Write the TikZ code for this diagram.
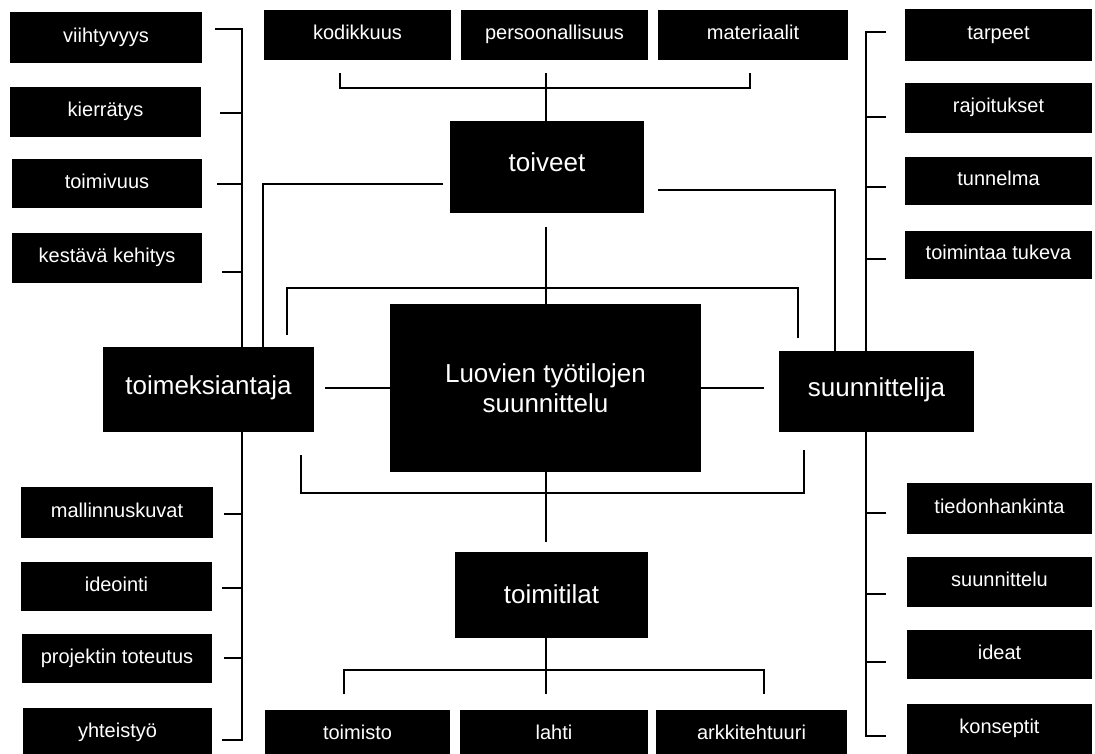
\documentclass[tikz,border=0pt]{standalone}
\usepackage{fontspec}
\setmainfont{Liberation Sans}
\usetikzlibrary{calc}
\newcommand\mybox[7]{\node[#1,minimum width={(#4-#2)*1pt},minimum height={(#5-#3)*1pt}] (#6) at ({(#2+#4)/2},{(#3+#5)/2}) {#7};}
\begin{document}
\begin{tikzpicture}[x=1pt,y=-1pt,
  box/.style={fill=black,text=white,inner sep=0pt,align=center},
  sm/.style={box,font=\fontsize{20}{24}\selectfont,text height=9.5pt,text depth=0.5pt},
  lg/.style={box,font=\fontsize{26}{30}\selectfont,text height=9.5pt,text depth=0.5pt},
  ctr/.style={box,font=\fontsize{26}{30}\selectfont},
  ln/.style={line width=2.2pt,line cap=butt,line join=miter}]
\clip (0,0) rectangle (1095,753);
\fill[white] (0,0) rectangle (1095,753);
% left top column
\mybox{sm}{10}{12}{202}{63}{viiht}{viihtyvyys}
\mybox{sm}{10}{87}{201}{137}{kierr}{kierrätys}
\mybox{sm}{12}{159}{202}{208}{toimiv}{toimivuus}
\mybox{sm}{12}{233}{202}{283}{kestava}{kestävä kehitys}
% left bottom column
\mybox{sm}{21}{487}{213}{538}{mallin}{mallinnuskuvat}
\mybox{sm}{21}{562}{212}{611}{ideointi}{ideointi}
\mybox{sm}{22}{634}{212}{683}{projektin}{projektin toteutus}
\mybox{sm}{23}{708}{212}{758}{yhteistyo}{yhteistyö}
% top row
\mybox{sm}{264}{10}{451}{60}{kodikkuus}{kodikkuus}
\mybox{sm}{461}{10}{648}{60}{persoon}{persoonallisuus}
\mybox{sm}{658}{10}{848}{60}{materiaalit}{materiaalit}
% right top column
\mybox{sm}{905}{9}{1092}{61}{tarpeet}{tarpeet}
\mybox{sm}{905}{83}{1092}{133}{rajoitukset}{rajoitukset}
\mybox{sm}{905}{157}{1092}{205}{tunnelma}{tunnelma}
\mybox{sm}{905}{231}{1092}{279}{tukeva}{toimintaa tukeva}
% right bottom column
\mybox{sm}{907}{483}{1092}{534}{tiedon}{tiedonhankinta}
\mybox{sm}{907}{557}{1092}{607}{suunnittelu}{suunnittelu}
\mybox{sm}{907}{630}{1092}{679}{ideat}{ideat}
\mybox{sm}{907}{704}{1092}{754}{konseptit}{konseptit}
% bottom row
\mybox{sm}{265}{710}{450}{760}{toimisto}{toimisto}
\mybox{sm}{460}{710}{648}{760}{lahti}{lahti}
\mybox{sm}{656}{710}{847}{760}{arkki}{arkkitehtuuri}
% large boxes
\mybox{lg}{450}{121}{644}{213}{toiveet}{toiveet}
\mybox{lg}{103}{347}{314}{432}{toim}{toimeksiantaja}
\mybox{ctr}{390}{304}{701}{472}{center}{Luovien työtilojen\\suunnittelu}
\mybox{lg}{779}{351}{974}{432}{suun}{suunnittelija}
\mybox{lg,text height=18pt}{455}{552}{648}{638}{toimitilat}{toimitilat}
% coordinates
\coordinate (kL) at (340,73);
\coordinate (kR) at (750,73);
\coordinate (kC) at (546,73);
\coordinate (tvL) at (443,184);
\coordinate (tvLc) at (263,184);
\coordinate (tvR) at (658,190);
\coordinate (tvRc) at (835,190);
\coordinate (tvD) at (546,227);
\coordinate (ubL) at (287,335);
\coordinate (ubR) at (798,338);
\coordinate (lbL) at (301,455);
\coordinate (lbR) at (804,450);
\coordinate (cL) at (325,388);
\coordinate (cR) at (764,388);
\coordinate (cD) at (546,542);
\coordinate (bbL) at (344,694);
\coordinate (bbR) at (764,694);
\coordinate (bbC) at (546,694);
% top bracket
\draw[ln] (kL) -- (340,88) -- (750,88) -- (kR);
\draw[ln] (kC) -- (kC |- toiveet.north);
% toiveet to sides
\draw[ln] (tvL) -- (tvLc) -- (tvLc |- toim.north);
\draw[ln] (tvR) -- (tvRc) -- (tvRc |- suun.north);
\draw[ln] (tvD) -- (tvD |- center.north);
% upper and lower brackets around center
\draw[ln] (ubL) -- (287,288) -- (798,288) -- (ubR);
\draw[ln] (lbL) -- (301,493) -- (804,493) -- (lbR);
\draw[ln] (cL) -- (cL -| center.west);
\draw[ln] (cR) -- (cR -| center.east);
\draw[ln] (cD |- center.south) -- (cD);
% toimitilat
\draw[ln] (bbC |- toimitilat.south) -- (bbC);
\draw[ln] (bbL) -- (344,670) -- (764,670) -- (bbR);
% left column
\draw[ln] (215,29) -- (242,29) -- (242,0 |- toim.north);
\draw[ln] (220,113) -- (242,113);
\draw[ln] (217,184) -- (242,184);
\draw[ln] (222,272) -- (242,272);
\draw[ln] (242,0 |- toim.south) -- (242,740) -- (222,740);
\draw[ln] (224,514) -- (242,514);
\draw[ln] (222,588) -- (242,588);
\draw[ln] (224,658) -- (242,658);
% right column
\draw[ln] (886,32) -- (866,32) -- (866,0 |- suun.north);
\draw[ln] (866,117) -- (886,117);
\draw[ln] (866,187) -- (886,187);
\draw[ln] (866,259) -- (886,259);
\draw[ln] (866,0 |- suun.south) -- (866,736) -- (886,736);
\draw[ln] (866,513) -- (886,513);
\draw[ln] (866,594) -- (886,594);
\draw[ln] (866,662) -- (886,662);
\end{tikzpicture}
\end{document}
